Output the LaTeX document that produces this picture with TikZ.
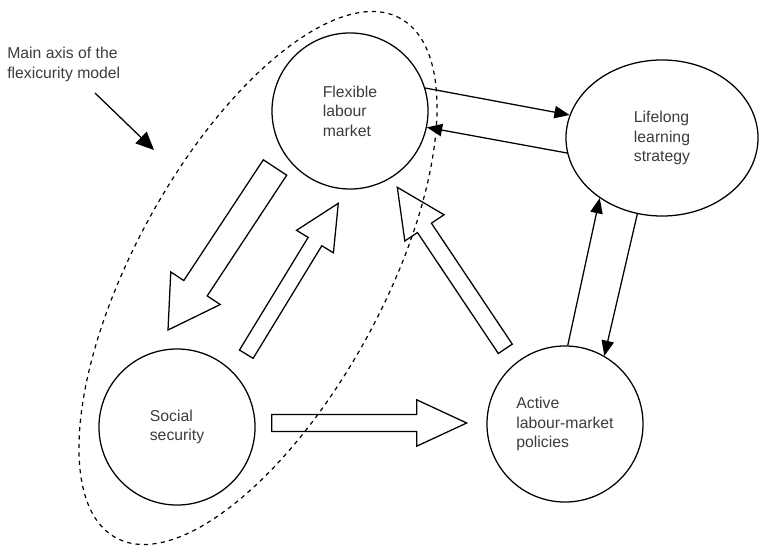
\documentclass[tikz,border=0pt]{standalone}
\usepackage{fontspec}
\setmainfont{Liberation Sans}
\usetikzlibrary{shapes,arrows.meta,calc}
\definecolor{TextGrey}{RGB}{60, 60, 60}

% hollow block arrow: tail, tip, half shaft, half head, head length
\newcommand{\blockarrow}[5]{%
  \coordinate (#1neck) at ($(#2)!#5!(#1)$);
  \draw[hollow] ($(#1)!#3!90:(#2)$) -- ($(#1neck)!#3!-90:(#1)$)
    -- ($(#1neck)!#4!-90:(#1)$) -- (#2)
    -- ($(#1neck)!#4!90:(#1)$) -- ($(#1neck)!#3!90:(#1)$)
    -- ($(#1)!#3!-90:(#2)$) -- cycle;
}

\begin{document}
\begin{tikzpicture}[
    x=0.025cm, y=-0.025cm,
    topic/.style={circle, draw, line width=0.9pt, minimum size=3.9cm, inner sep=0pt, align=left, font={\fontsize{11.2}{13.9}\selectfont}, text=TextGrey},
    oval/.style={ellipse, draw, line width=0.9pt, minimum width=4.8cm, minimum height=3.9cm, inner sep=0pt, align=left, font={\fontsize{11.2}{13.9}\selectfont}, text=TextGrey},
    arrow/.style={-{Triangle[length=3.8mm, width=3.1mm]}, line width=0.9pt},
    hollow/.style={draw, line width=0.9pt, line join=miter},
    axisline/.style={dashed, dash pattern=on 3pt off 3pt, line width=0.85pt},
    note/.style={align=left, font={\fontsize{11.2}{14.2}\selectfont}, text=TextGrey, inner sep=0pt}
]
\useasboundingbox (0,0) rectangle (761,550);

% Circles
\node[topic] (flex) at (350, 111) {Flexible\\labour\\market};
\node[topic] (social) at (177, 427) {Social\\security};
\node[topic] (active) at (565, 424) {Active\\labour-market\\policies};
\node[oval] (life) at (662, 138) {Lifelong\\learning\\strategy};

% Main axis
\coordinate (axiscentre) at (258, 278);
\draw[axisline, rotate around={61.3:(axiscentre)}] (axiscentre) ellipse [x radius=7.4cm, y radius=3.1cm];
\node[note, anchor=north west] (axislabel) at (7, 47) {Main axis of the\\flexicurity model};
\coordinate (axisfrom) at (95, 93);
\coordinate (axisto) at (154, 150);
\draw[-{Triangle[length=4.5mm, width=4mm]}, line width=0.9pt] (axisfrom) -- (axisto);

% Thin arrows
\draw[arrow] (flex.17) -- (life.166);
\draw[arrow] (life.189) -- (flex.348);
\draw[arrow] (active.88) -- (life.224);
\draw[arrow] (life.252) -- (active.60);

% Block arrows
\coordinate (fsTail) at (275, 167.5);
\coordinate (fsTip) at (168, 330);
\coordinate (sfTail) at (246.3, 354.2);
\coordinate (sfTip) at (338.3, 203.3);
\coordinate (saTail) at (271.7, 423);
\coordinate (saTip) at (466.7, 423);
\coordinate (afTail) at (505.3, 348.8);
\coordinate (afTip) at (397.3, 187.3);
\blockarrow{fsTail}{fsTip}{0.35cm}{0.74cm}{1.25cm}
\blockarrow{sfTail}{sfTip}{0.2cm}{0.54cm}{1.12cm}
\blockarrow{saTail}{saTip}{0.21cm}{0.58cm}{1.25cm}
\blockarrow{afTail}{afTip}{0.21cm}{0.59cm}{1.22cm}

\end{tikzpicture}
\end{document}
